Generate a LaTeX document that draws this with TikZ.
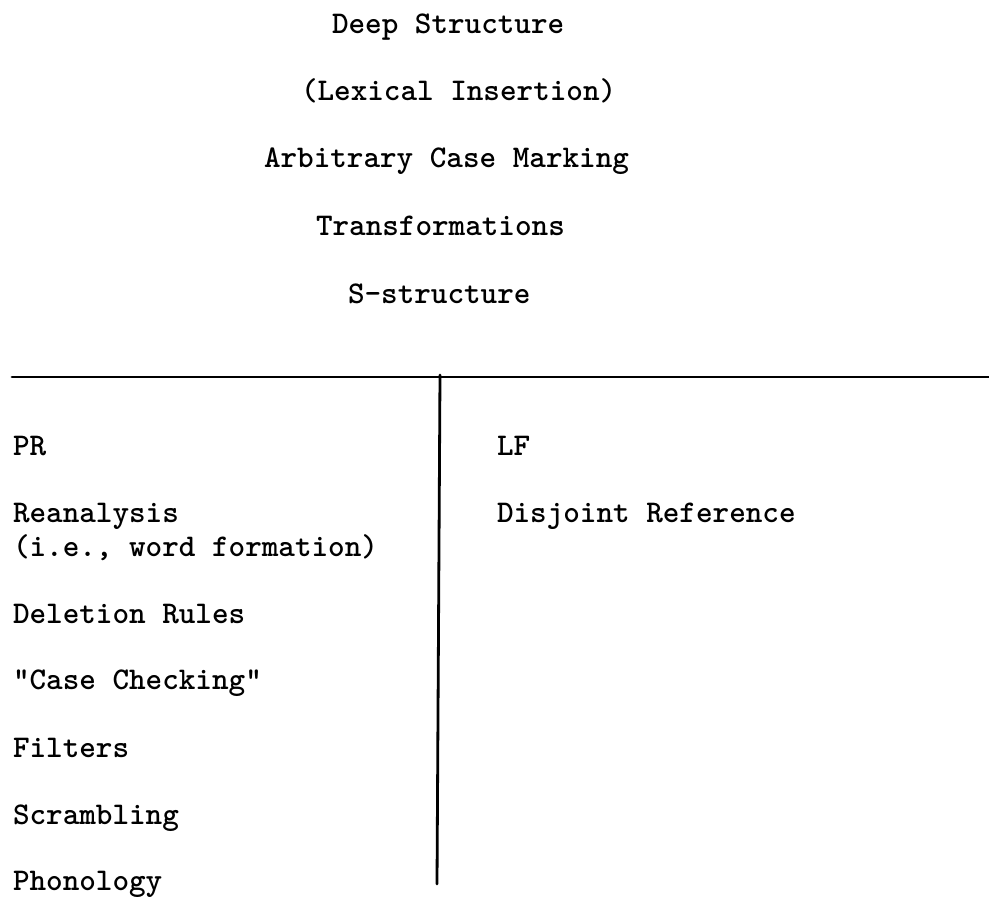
\documentclass[tikz,border=0pt]{standalone}
\usepackage{fontspec}
\begin{document}
\begin{tikzpicture}[x=1pt,y=-1pt,
  lbl/.style={anchor=base west, inner sep=0pt, outer sep=0pt,
    font=\fontsize{31.6}{36}\selectfont\ttfamily\bfseries},
  rule/.style={line width=2.8pt, line cap=round}]
\useasboundingbox[fill=white] (0,0) rectangle (989,897);
% top column
\node[lbl] (ds)  at (332,33)  {Deep Structure};
\node[lbl] (lex) at (301,100) {(Lexical Insertion)};
\node[lbl] (acm) at (264,167) {Arbitrary Case Marking};
\node[lbl] (tr)  at (316,235) {Transformations};
\node[lbl] (ss)  at (348,303) {S-structure};
% rules
\coordinate (hl) at (12,377);
\coordinate (hr) at (989,377);
\coordinate (vt) at (440,375);
\coordinate (vb) at (437,884);
\draw[rule] (hl) -- (hr);
\draw[rule] (vt) -- (vb);
% left column
\node[lbl] (pr)  at (13,455) {PR};
\node[lbl] (rea) at (13,522) {Reanalysis};
\node[lbl] (ie)  at (13,556) {(i.e., word formation)};
\node[lbl] (del) at (13,623) {Deletion Rules};
\node[lbl] (cc)  at (13,689) {"Case Checking"};
\node[lbl] (fil) at (13,757) {Filters};
\node[lbl] (scr) at (13,824) {Scrambling};
\node[lbl] (pho) at (13,890) {Phonology};
% right column
\node[lbl] (lf)  at (497,455) {LF};
\node[lbl] (dr)  at (497,522) {Disjoint Reference};
\end{tikzpicture}
\end{document}
